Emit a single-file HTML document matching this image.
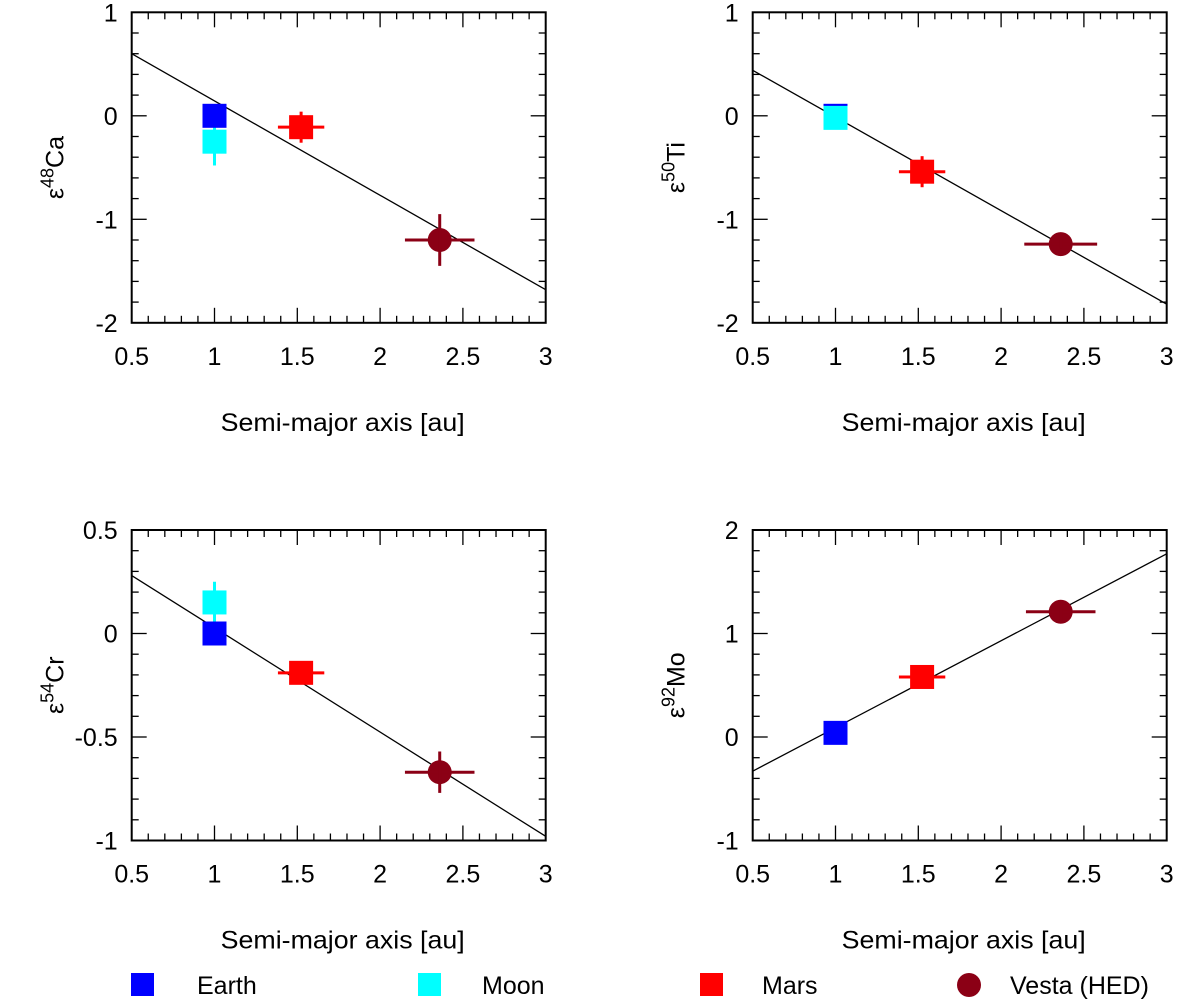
<!DOCTYPE html>
<html><head><meta charset="utf-8"><style>
body{margin:0;background:#fff;}
svg text{font-family:"Liberation Sans",Arial,sans-serif;fill:#000;}
</style></head><body>
<svg id="fig" width="1200" height="1003" viewBox="0 0 1200 1003" xmlns="http://www.w3.org/2000/svg">
<g>
 <rect x="131" y="973" width="23" height="23" fill="#0000ff"/>
 <text x="197" y="994" font-size="25">Earth</text>
 <rect x="418" y="973" width="23" height="23" fill="#00ffff"/>
 <text x="482" y="994" font-size="25">Moon</text>
 <rect x="700" y="973" width="23" height="23" fill="#ff0000"/>
 <text x="762" y="994" font-size="25">Mars</text>
 <circle cx="969" cy="985" r="12" fill="#8b0015"/>
 <text x="1010" y="994" font-size="25">Vesta (HED)</text>
</g>
</svg>
<script>
const xTicks=[0.5,1,1.5,2,2.5,3];
const caY=[1,0,-1,-2], tiY=[1,0,-1,-2], crY=[0.5,0,-0.5,-1], moY=[2,1,0,-1];
const caPts=[[1.0,-0.25,0,0.23,'moon'],[1.0,0,0,0,'earth'],[1.523,-0.11,0.14,0.15,'mars'],[2.36,-1.2,0.21,0.25,'vesta']];
const tiPts=[[1.0,0,0,0,'earth'],[1.0,-0.02,0,0.06,'moon'],[1.523,-0.54,0.14,0.15,'mars'],[2.36,-1.24,0.22,0.04,'vesta']];
const crPts=[[1.0,0.15,0,0.1,'moon'],[1.0,0,0,0,'earth'],[1.523,-0.19,0.14,0.02,'mars'],[2.36,-0.67,0.21,0.1,'vesta']];
const moPts=[[1.0,0.04,0,0.08,'earth'],[1.523,0.58,0.14,0.03,'mars'],[2.36,1.21,0.21,0.08,'vesta']];
const caLine=[0.6,-1.68], tiLine=[0.44,-1.82], crLine=[0.28,-0.98], moLine=[-0.33,1.77];
const colors={earth:'#0000ff',moon:'#00ffff',mars:'#ff0000',vesta:'#8b0015'};
const NS='http://www.w3.org/2000/svg';
const svg=document.getElementById('fig');
function el(t,a,p){const e=document.createElementNS(NS,t);for(const k in a)e.setAttribute(k,a[k]);(p||svg).appendChild(e);return e;}
function panel(name,L,T,yT,pts,line,iso,sup){
 const W=414,H=310.5,R=L+W,B=T+H;
 const ymax=yT[0],ymin=yT[yT.length-1];
 const sx=v=>L+(v-0.5)/2.5*W, sy=v=>T+(ymax-v)/(ymax-ymin)*H;
 const g=el('g',{});
 
 
 for(let i=0;i<=25;i++){const v=0.5+i*0.1,x=sx(v),len=i%5==0?15:7;
  el('line',{x1:x,x2:x,y1:B,y2:B-len,stroke:'#000','stroke-width':1.3},g);
  el('line',{x1:x,x2:x,y1:T,y2:T+len,stroke:'#000','stroke-width':1.3},g);}
 for(let i=0;i<=15;i++){const y=T+i*H/15,len=i%5==0?15:7;
  el('line',{x1:L,x2:L+len,y1:y,y2:y,stroke:'#000','stroke-width':1.3},g);
  el('line',{x1:R,x2:R-len,y1:y,y2:y,stroke:'#000','stroke-width':1.3},g);}
 el('rect',{x:L,y:T,width:W,height:H,fill:'none',stroke:'#000','stroke-width':2},g);
 xTicks.forEach(v=>{const t=el('text',{x:sx(v),y:B+42,'font-size':25,'text-anchor':'middle'},g);t.textContent=v;
  
  });
 yT.forEach(v=>{const t=el('text',{x:L-14,y:sy(v)+9,'font-size':25,'text-anchor':'end'},g);t.textContent=v;
  
  });
 const xt=el('text',{x:L+W/2+4,y:B+108,'font-size':25,'text-anchor':'middle',textLength:244,lengthAdjust:'spacingAndGlyphs'},g);xt.textContent='Semi-major axis [au]';
 
 
 const yt=el('text',{x:0,y:0,'font-size':25,'text-anchor':'middle',transform:`translate(${L-68},${T+H/2}) rotate(-90)`},g);
 yt.innerHTML='ε<tspan dy="-10" font-size="18">'+sup+'</tspan><tspan dy="10">'+iso+'</tspan>';
 
 
 const ln=el('line',{x1:sx(0.5),y1:sy(line[0]),x2:sx(3),y2:sy(line[1]),stroke:'#000','stroke-width':1.3},g);
 
 
 pts.forEach(p=>{const[x,y,ex,ey,k]=p,c=colors[k],cx=sx(x),cy=sy(y);
  const pg=el('g',{},g);
  
  
  if(k==='vesta')el('circle',{cx,cy,r:12,fill:c},pg);
  else el('rect',{x:cx-12,y:cy-12,width:24,height:24,fill:c},pg);
  if(ex>0)el('line',{x1:sx(x-ex),x2:sx(x+ex),y1:cy,y2:cy,stroke:c,'stroke-width':3},pg);
  if(ey>0)el('line',{x1:cx,x2:cx,y1:sy(y-ey),y2:sy(y+ey),stroke:c,'stroke-width':3},pg);
 });
}
panel('ca48',131.7,12.3,caY,caPts,caLine,'Ca','48');
panel('ti50',752.7,12.3,tiY,tiPts,tiLine,'Ti','50');
panel('cr54',131.7,530,crY,crPts,crLine,'Cr','54');
panel('mo92',752.7,530,moY,moPts,moLine,'Mo','92');
</script>
</body></html>
